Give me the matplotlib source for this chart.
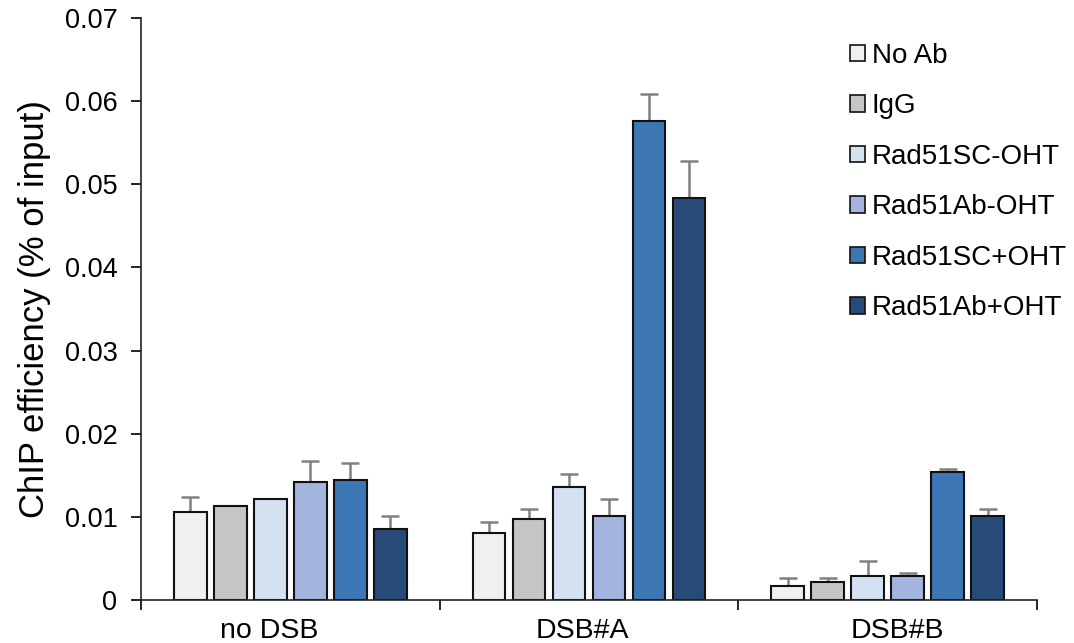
import matplotlib
matplotlib.use("Agg")
import matplotlib.pyplot as plt
import numpy as np

plt.rcParams['font.family'] = ['Liberation Sans', 'DejaVu Sans']

groups = ["no DSB", "DSB#A", "DSB#B"]
series = ["No Ab", "IgG", "Rad51SC-OHT", "Rad51Ab-OHT", "Rad51SC+OHT", "Rad51Ab+OHT"]
colors = ["#F0F0F0", "#C4C5C4", "#D3E1F1", "#A3B5DE", "#3C76B5", "#284A78"]

no_ab     = [0.0106, 0.0081, 0.0017]
igg       = [0.0113, 0.0097, 0.0022]
sc_minus  = [0.0122, 0.0136, 0.0029]
ab_minus  = [0.0142, 0.0101, 0.0029]
sc_plus   = [0.0144, 0.0576, 0.0154]
ab_plus   = [0.0085, 0.0483, 0.0101]
values = [no_ab, igg, sc_minus, ab_minus, sc_plus, ab_plus]

no_ab_err    = [0.0018, 0.0013, 0.0009]
igg_err      = [0.0, 0.0012, 0.0004]
sc_minus_err = [0.0, 0.0016, 0.0018]
ab_minus_err = [0.0025, 0.0020, 0.0004]
sc_plus_err  = [0.0021, 0.0032, 0.0004]
ab_plus_err  = [0.0016, 0.0045, 0.0009]
errors = [no_ab_err, igg_err, sc_minus_err, ab_minus_err, sc_plus_err, ab_plus_err]

W, H = 1074, 643
fig = plt.figure(figsize=(W / 100, H / 100), dpi=100)
ax = fig.add_axes([141 / W, 1 - 600 / H, (1037 - 141) / W, (600 - 18) / H])

x = np.arange(len(groups))
pitch = 0.134
width = 0.109
for i, (name, vals, errs, c) in enumerate(zip(series, values, errors, colors)):
    pos = x + (i - 2.5) * pitch
    ax.bar(pos, vals, width=width, color=c, edgecolor="#111111", linewidth=1.5,
           label=name, zorder=2)
    ax.errorbar(pos, vals, yerr=[np.zeros(len(errs)), errs], fmt="none",
                ecolor="#808080", elinewidth=1.8, capsize=6.5, capthick=1.8, zorder=1)

ax.set_xlim(-0.5, 2.5)
ax.set_ylim(0, 0.07)
ax.set_yticks(np.arange(0, 0.0701, 0.01))
ax.set_yticklabels(["0", "0.01", "0.02", "0.03", "0.04", "0.05", "0.06", "0.07"])
# category labels sit slightly spread relative to group centres in the reference
label_offsets = np.array([-0.07, -0.023, 0.031])
ax.set_xticks(x + label_offsets)
ax.set_xticklabels(groups)
ax.set_xticks([-0.5, 0.5, 1.5, 2.5], minor=True)
ax.tick_params(axis="x", which="major", length=0, labelsize=20.5, pad=13)
ax.tick_params(axis="x", which="minor", length=7, width=1.2, direction="out")
ax.tick_params(axis="y", length=7, width=1.2, labelsize=19.5, pad=10)
for s in ["top", "right"]:
    ax.spines[s].set_visible(False)
for s in ["left", "bottom"]:
    ax.spines[s].set_linewidth(1.2)
    ax.spines[s].set_color("#222222")
ax.set_ylabel("ChIP efficiency (% of input)", fontsize=25, labelpad=10)

leg = fig.legend(*ax.get_legend_handles_labels(), loc="upper left",
                 bbox_to_anchor=(850 / W, 1 - 43 / H), bbox_transform=fig.transFigure,
                 frameon=False, fontsize=20, handlelength=0.54, handleheight=0.54,
                 handletextpad=0.25, labelspacing=0.88, borderaxespad=0, borderpad=0)
for h in leg.legend_handles:
    h.set_linewidth(1.2)

fig.savefig("out.png", dpi=100)
